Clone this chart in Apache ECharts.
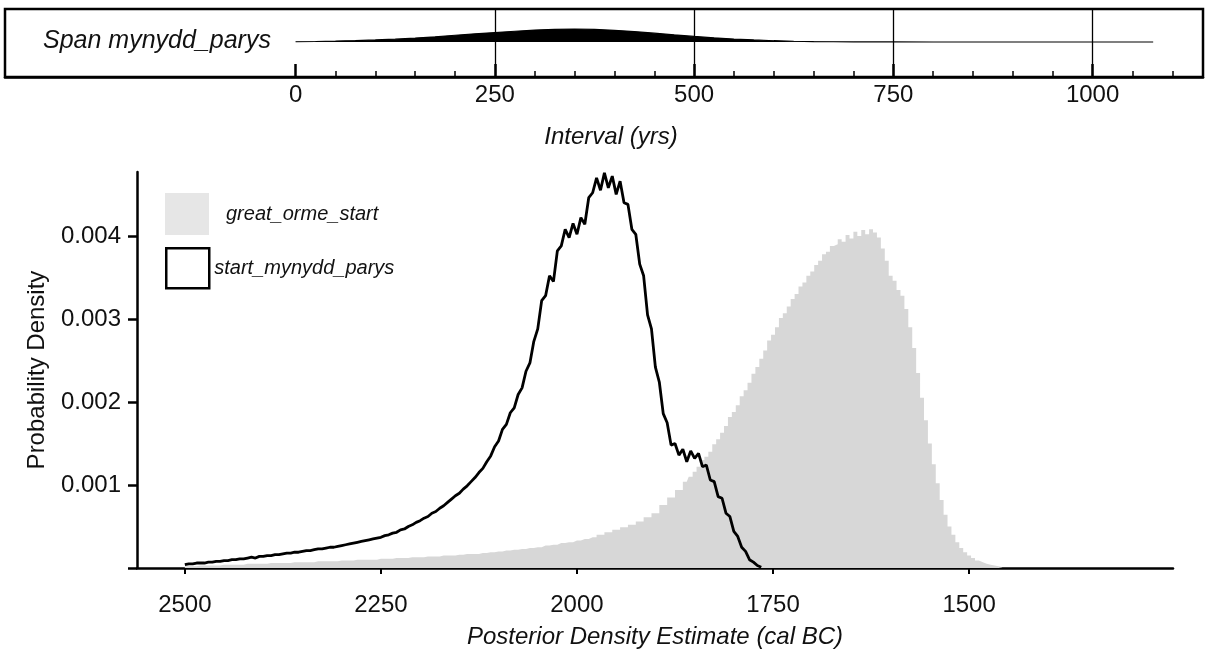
<!DOCTYPE html>
<html>
<head>
<meta charset="utf-8">
<title>Span / start mynydd_parys</title>
<script src="https://cdn.jsdelivr.net/npm/echarts@6.0.0/dist/echarts.min.js"></script>
<style>
  html, body { margin: 0; padding: 0; background: #fff; }
  #main { width: 1208px; height: 652px; }
</style>
</head>
<body>
<div id="main"></div>
<script>
// 上方 Span 分布 (相对高度, 峰值 = 1)
const spanYears = [0, 25, 50, 75, 100, 125, 150, 175, 200, 225, 250, 275, 300, 325, 350, 375, 400, 425, 450, 475, 500,
  525, 550, 575, 600, 625, 650, 675, 700, 750, 800, 850, 900, 950, 1000, 1050, 1076]
const spanValues = [0.02, 0.04, 0.07, 0.11, 0.16, 0.22, 0.3, 0.4, 0.52, 0.63, 0.73, 0.83, 0.92, 0.98, 1.0, 0.97, 0.9, 0.8, 0.68, 0.55, 0.43,
  0.32, 0.23, 0.16, 0.1, 0.06, 0.035, 0.02, 0.01, 0.005, 0.003, 0.002, 0.001, 0.001, 0, 0, 0]

// start_mynydd_parys, 2500 -> 1765 cal BC, 每 5 年
const startYears = []
for (let y = 2500; y >= 1765; y -= 5) startYears.push(y)
const startValues = [
  0.00004, 0.00005, 0.00005, 0.00006, 0.00006, 0.00006, 0.00007, 0.00007, 0.00008, 0.00008,
  0.00009, 0.00009, 0.00010, 0.00010, 0.00011, 0.00011, 0.00012, 0.00013, 0.00012, 0.00014,
  0.00014, 0.00015, 0.00015, 0.00016, 0.00016, 0.00017, 0.00018, 0.00018, 0.00019, 0.00019,
  0.00020, 0.00021, 0.00021, 0.00022, 0.00023, 0.00023, 0.00024, 0.00025, 0.00025, 0.00026,
  0.00027, 0.00028, 0.00029, 0.00030, 0.00031, 0.00032, 0.00033, 0.00034, 0.00035, 0.00036,
  0.00037, 0.00039, 0.00040, 0.00042, 0.00043, 0.00046, 0.00047, 0.00050, 0.00052, 0.00055,
  0.00057, 0.00060, 0.00062, 0.00066, 0.00068, 0.00072, 0.00075, 0.00079, 0.00083, 0.00087,
  0.00090, 0.00095, 0.00099, 0.00104, 0.00109, 0.00115, 0.00120, 0.00128, 0.00135, 0.00146,
  0.00153, 0.00167, 0.00173, 0.00187, 0.00193, 0.00209, 0.00217, 0.00237, 0.00247, 0.00273,
  0.00288, 0.00322, 0.00328, 0.00352, 0.00345, 0.00382, 0.00388, 0.00408, 0.00398, 0.00415,
  0.00402, 0.00422, 0.00414, 0.00446, 0.00452, 0.00470, 0.00455, 0.00476, 0.00458, 0.00472,
  0.00450, 0.00466, 0.00440, 0.00438, 0.00408, 0.00402, 0.00366, 0.00352, 0.00305, 0.00288,
  0.00242, 0.00224, 0.00186, 0.00175, 0.00148, 0.00150, 0.00136, 0.00143, 0.00128, 0.00141,
  0.00132, 0.00138, 0.00122, 0.00124, 0.00106, 0.00104, 0.00086, 0.00084, 0.00066, 0.00062,
  0.00044, 0.00038, 0.00025, 0.00020, 0.00010, 0.00007, 0.00003, 0.00001
]

// great_orme_start
const greatYears = [2500, 2490, 2480, 2470, 2460, 2450, 2440, 2430, 2420, 2410, 2400, 2390, 2380, 2370, 2360, 2350,
  2340, 2330, 2320, 2310, 2300, 2290, 2280, 2270, 2260, 2250, 2240, 2230, 2220, 2210, 2200, 2190, 2180, 2170, 2160,
  2150, 2140, 2130, 2120, 2110, 2100, 2090, 2080, 2070, 2060, 2050, 2040, 2030, 2020, 2010, 2000, 1990, 1980, 1970,
  1960, 1950, 1940, 1930, 1920, 1910, 1900, 1890, 1880, 1870, 1860,
  1855, 1850, 1845, 1840, 1835, 1830, 1825, 1820, 1815, 1810, 1805, 1800, 1795, 1790, 1785, 1780, 1775, 1770,
  1765, 1760, 1755, 1750, 1745, 1740, 1735, 1730, 1725, 1720, 1715, 1710, 1705, 1700, 1695, 1690, 1685, 1680,
  1675, 1670, 1665, 1660, 1655, 1650, 1645, 1640, 1635, 1630, 1625, 1620, 1615, 1610, 1605, 1600, 1595, 1590,
  1585, 1580, 1575, 1570, 1565, 1560, 1555, 1550, 1545, 1540, 1535, 1530, 1525, 1520, 1515, 1510, 1505, 1500,
  1495, 1490, 1485, 1480, 1475, 1470, 1465, 1460, 1455]
const greatValues = [0.00002, 0.00002, 0.00003, 0.00003, 0.00003, 0.00004, 0.00004, 0.00004, 0.00005, 0.00005, 0.00005,
  0.00006, 0.00006, 0.00006, 0.00007, 0.00007, 0.00007, 0.00008, 0.00008, 0.00008, 0.00009, 0.00009, 0.00010, 0.00010,
  0.00010, 0.00011, 0.00011, 0.00012, 0.00012, 0.00013, 0.00013, 0.00014, 0.00014, 0.00015, 0.00015, 0.00016, 0.00017,
  0.00017, 0.00018, 0.00019, 0.00020, 0.00021, 0.00022, 0.00023, 0.00024, 0.00025, 0.00027, 0.00028, 0.00030, 0.00031,
  0.00033, 0.00035, 0.00037, 0.00040, 0.00043, 0.00046, 0.00049, 0.00052, 0.00056, 0.00061, 0.00066, 0.00076, 0.00085,
  0.00094, 0.00104,
  0.00110, 0.00116, 0.00122, 0.00130, 0.00134, 0.00140, 0.00149, 0.00155, 0.00163, 0.00171, 0.00182, 0.00188, 0.00196,
  0.00207, 0.00214, 0.00223, 0.00234, 0.00242, 0.00252, 0.00262, 0.00274, 0.00281, 0.00290, 0.00301, 0.00307, 0.00315,
  0.00324, 0.00330, 0.00339, 0.00344, 0.00352, 0.00357, 0.00365, 0.00370, 0.00378, 0.00381, 0.00388, 0.00390, 0.00396,
  0.00393, 0.00401, 0.00397, 0.00405, 0.00400, 0.00407, 0.00402, 0.00408, 0.00404, 0.00398, 0.00385, 0.00370, 0.00352,
  0.00346, 0.00335, 0.00328, 0.00312, 0.00290, 0.00265, 0.00235, 0.00205, 0.00178, 0.00150, 0.00125, 0.00102, 0.00082,
  0.00064, 0.00050, 0.00040, 0.00031, 0.00024, 0.00019, 0.00015, 0.00012, 0.00009, 0.00007, 0.00005, 0.00004, 0.00003,
  0.00002, 0.00001, 0.00001, 0]

// 坐标轴刻度
const spanMajorTicks = [0, 250, 500, 750, 1000]
const spanMinorTicks = [50, 100, 150, 200, 300, 350, 400, 450, 550, 600, 650, 700, 800, 850, 900, 950, 1050, 1100]
const spanGridLines = [250, 500, 750, 1000]
const dateTicks = [1500, 1750, 2000, 2250, 2500]
const densityTicks = [0, 0.001, 0.002, 0.003, 0.004]
const densityLabels = [0.001, 0.002, 0.003, 0.004]

function pairs (xs, ys) {
  return xs.map((x, i) => [x, ys[i]])
}

const font = 'Liberation Sans, Arial, sans-serif'
const ink = '#111'

let myChart = echarts.init(document.getElementById('main'))
myChart.setOption({
  backgroundColor: '#fff',
  animation: false,
  textStyle: { fontFamily: font, color: ink },
  title: {
    text: 'Span mynydd_parys',
    left: 38,
    top: 24,
    textStyle: { fontFamily: font, fontSize: 25, fontStyle: 'italic', fontWeight: 'normal', color: ink }
  },
  legend: [
    {
      left: 165,
      top: 193,
      padding: 0,
      itemWidth: 44,
      itemHeight: 42,
      icon: 'rect',
      selectedMode: false,
      textStyle: { fontFamily: font, fontSize: 20, fontStyle: 'italic', color: ink, padding: [0, 0, 0, 12] },
      data: [{ name: 'great_orme_start', itemStyle: { color: '#e6e6e6', borderWidth: 0 } }]
    },
    {
      left: 165,
      top: 247,
      padding: 0,
      itemWidth: 43,
      itemHeight: 40,
      icon: 'rect',
      selectedMode: false,
      textStyle: { fontFamily: font, fontSize: 20, fontStyle: 'italic', color: ink },
      data: [{ name: 'start_mynydd_parys', itemStyle: { color: '#fff', borderColor: '#000', borderWidth: 2.5 } }]
    }
  ],
  grid: [
    // 上方的 Span 框
    { left: 5, right: 5, top: 9, height: 68, outerBoundsMode: 'none', show: true, borderColor: '#000', borderWidth: 2.5, backgroundColor: 'transparent' },
    // 下方的密度图
    { left: 137, right: 35, top: 172, bottom: 84, outerBoundsMode: 'none' }
  ],
  xAxis: [
    {
      gridIndex: 0,
      type: 'value',
      position: 'bottom',
      min: -364.6,
      max: 1138.5,
      axisLine: { show: true, onZero: false, lineStyle: { color: '#000', width: 2.5 } },
      axisTick: { show: true, inside: true, length: 13, customValues: spanMajorTicks, lineStyle: { color: '#000', width: 2.5 } },
      axisLabel: { customValues: spanMajorTicks, fontSize: 24, color: ink, margin: 6, formatter: v => String(v) },
      splitLine: { show: false },
      name: 'Interval (yrs)',
      nameLocation: 'middle',
      nameGap: 48,
      nameTextStyle: { fontSize: 24, fontStyle: 'italic', color: ink, padding: [0, 0, 0, 14] }
    },
    {
      gridIndex: 0,
      type: 'value',
      position: 'bottom',
      offset: 0,
      min: -364.6,
      max: 1138.5,
      axisLine: { show: false, onZero: false },
      axisTick: { show: true, inside: true, length: 6, customValues: spanMinorTicks, lineStyle: { color: '#000', width: 1.5 } },
      axisLabel: { show: false },
      splitLine: { show: false }
    },
    {
      gridIndex: 1,
      type: 'value',
      inverse: true,
      min: 1240,
      max: 2561,
      axisLine: { show: true, onZero: false, lineStyle: { color: '#000', width: 2.5 } },
      axisTick: { show: true, length: 6, customValues: dateTicks, lineStyle: { color: '#000', width: 2 } },
      axisLabel: { customValues: dateTicks, fontSize: 24, color: ink, margin: 25, formatter: v => String(v) },
      splitLine: { show: false },
      name: 'Posterior Density Estimate (cal BC)',
      nameLocation: 'middle',
      nameGap: 57,
      nameTextStyle: { fontSize: 24, fontStyle: 'italic', color: ink }
    }
  ],
  yAxis: [
    { gridIndex: 0, type: 'value', show: false, min: -2.69, max: 2.54 },
    {
      gridIndex: 1,
      type: 'value',
      min: 0,
      max: 0.00477,
      axisLine: { show: true, onZero: false, lineStyle: { color: '#000', width: 2.5 } },
      axisTick: { show: true, length: 9, customValues: densityTicks, lineStyle: { color: '#000', width: 2.5 } },
      axisLabel: {
        customValues: densityLabels,
        fontSize: 24,
        color: ink,
        margin: 16,
        formatter: function (v) { return v.toFixed(3) }
      },
      splitLine: { show: false },
      name: 'Probability Density',
      nameLocation: 'middle',
      nameGap: 88,
      nameTextStyle: { fontSize: 24, color: ink }
    }
  ],
  series: [
    {
      name: 'span',
      type: 'line',
      xAxisIndex: 0,
      yAxisIndex: 0,
      showSymbol: false,
      data: pairs(spanYears, spanValues),
      lineStyle: { color: '#000', width: 1.2 },
      areaStyle: { color: '#000', opacity: 1 },
      markLine: {
        silent: true,
        symbol: ['none', 'none'],
        label: { show: false },
        lineStyle: { color: '#000', type: 'solid', width: 1.3 },
        data: spanGridLines.map(v => ({ xAxis: v }))
      }
    },
    {
      name: 'great_orme_start',
      type: 'line',
      xAxisIndex: 2,
      yAxisIndex: 1,
      step: 'middle',
      showSymbol: false,
      data: pairs(greatYears, greatValues),
      lineStyle: { width: 0, color: '#d7d7d7' },
      itemStyle: { color: '#d7d7d7' },
      areaStyle: { color: '#d7d7d7', opacity: 1 },
      z: 1
    },
    {
      name: 'start_mynydd_parys',
      type: 'line',
      xAxisIndex: 2,
      yAxisIndex: 1,
      showSymbol: false,
      data: pairs(startYears, startValues),
      lineStyle: { color: '#000', width: 2.8 },
      itemStyle: { color: '#000' },
      z: 3
    }
  ]
})
window.addEventListener('resize', function () {
  myChart.resize()
})
</script>
</body>
</html>
